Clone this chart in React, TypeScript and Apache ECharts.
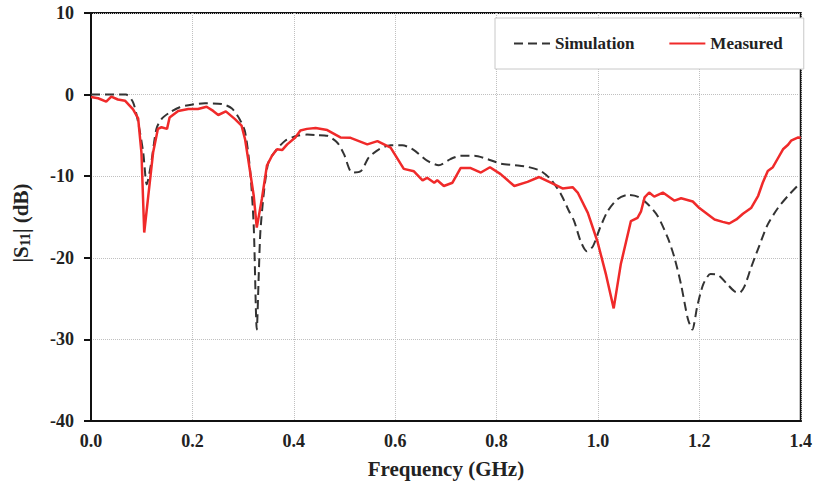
import React, { useEffect, useRef } from "react";
import * as echarts from "echarts";

const xTickLabels = ["0.0", "0.2", "0.4", "0.6", "0.8", "1.0", "1.2", "1.4"];
const yTickLabels = ["-40", "-30", "-20", "-10", "0", "10"];

const simFreq = [
  0.0, 0.069, 0.083, 0.093, 0.103, 0.11, 0.119, 0.129, 0.139, 0.155, 0.175, 0.198, 0.225, 0.258, 0.278,
  0.294, 0.304, 0.314, 0.321, 0.327, 0.331, 0.334, 0.341, 0.35, 0.364, 0.383, 0.407, 0.426, 0.446, 0.466,
  0.486, 0.499, 0.515, 0.532, 0.548, 0.568, 0.591, 0.614, 0.637, 0.663, 0.686, 0.709, 0.729, 0.756, 0.782,
  0.808, 0.835, 0.861, 0.887, 0.907, 0.927, 0.943, 0.953, 0.966, 0.978, 0.99, 1.003, 1.019, 1.039, 1.059,
  1.078, 1.098, 1.118, 1.138, 1.151, 1.164, 1.177, 1.186, 1.196, 1.208, 1.222, 1.237, 1.253, 1.269, 1.279,
  1.289, 1.302, 1.319, 1.335, 1.355, 1.375, 1.398,
];
const simS11 = [
  0, 0, -0.95, -3.4, -7.1, -11.0, -8.3, -4.2, -3.0, -2.2, -1.55, -1.23, -1.07, -1.15, -1.7,
  -3.1, -4.6, -9.35, -16.1, -28.8, -21.9, -16.9, -12.0, -8.3, -6.9, -5.65, -5.05, -4.9, -4.96, -5.05,
  -5.9, -7.3, -9.55, -9.4, -7.7, -6.7, -6.2, -6.2, -6.8, -8.1, -8.65, -7.9, -7.5, -7.5, -7.9,
  -8.45, -8.65, -8.85, -9.35, -10.4, -12.2, -14.3, -15.5, -18.0, -19.2, -18.6, -16.5, -14.3, -12.8, -12.3,
  -12.5, -13.4, -14.9, -17.6, -20.0, -23.3, -27.4, -28.8, -25.9, -23.2, -22.0, -22.1, -23.1, -24.1, -24.3,
  -23.5, -21.2, -18.4, -15.9, -13.9, -12.4, -10.9,
];

const measFreq = [
  0.0, 0.014, 0.03, 0.04, 0.053, 0.067, 0.083, 0.093, 0.0995, 0.105, 0.113, 0.1225, 0.132, 0.139, 0.15,
  0.155, 0.172, 0.192, 0.211, 0.228, 0.241, 0.251, 0.266, 0.284, 0.297, 0.304, 0.311, 0.321, 0.327, 0.337,
  0.347, 0.357, 0.367, 0.377, 0.387, 0.403, 0.413, 0.426, 0.443, 0.466, 0.492, 0.512, 0.545, 0.565, 0.591,
  0.617, 0.637, 0.654, 0.663, 0.677, 0.683, 0.696, 0.713, 0.729, 0.749, 0.769, 0.787, 0.808, 0.835, 0.861,
  0.884, 0.907, 0.93, 0.95, 0.96, 0.98, 0.999, 1.016, 1.031, 1.045, 1.065, 1.078, 1.085, 1.092, 1.101,
  1.111, 1.128, 1.151, 1.164, 1.187, 1.2, 1.213, 1.23, 1.246, 1.259, 1.273, 1.286, 1.302, 1.316, 1.325,
  1.335, 1.345, 1.355, 1.365, 1.375, 1.381, 1.395, 1.4,
];
const measS11 = [
  -0.3, -0.45, -0.86, -0.25, -0.6, -0.75, -1.8, -2.9, -7.1, -16.9, -12.4, -7.1, -4.2, -4.0, -4.2,
  -2.8, -2.0, -1.76, -1.76, -1.48, -2.0, -2.5, -2.05, -3.0, -3.8, -5.5, -8.3, -12.4, -16.3, -12.8,
  -8.7, -7.5, -6.7, -6.8, -6.1, -5.25, -4.4, -4.2, -4.1, -4.35, -5.25, -5.3, -6.1, -5.7, -6.5,
  -9.1, -9.4, -10.5, -10.2, -10.8, -10.5, -11.2, -10.8, -9.0, -9.0, -9.55, -8.9, -9.75, -11.2, -10.7,
  -10.1, -10.8, -11.5, -11.35, -12.0, -14.5, -18.0, -22.1, -26.2, -20.8, -15.5, -15.1, -14.3, -12.6, -12.0,
  -12.5, -12.0, -13.0, -12.7, -13.1, -13.9, -14.5, -15.3, -15.6, -15.8, -15.3, -14.6, -13.9, -12.4, -10.8,
  -9.35, -8.9, -7.8, -6.7, -6.15, -5.65, -5.25, -5.3,
];

const seriesNames = ["Simulation", "Measured"];

const FONT = "'Liberation Serif', 'Times New Roman', serif";

export default function App() {
  const ref = useRef<HTMLDivElement>(null);
  useEffect(() => {
    document.body.style.margin = "0";
    if (!ref.current) return;
    const chart = echarts.init(ref.current, null, { renderer: "svg" });
    const simData = simFreq.map((f, i) => [f, simS11[i]]);
    const measData = measFreq.map((f, i) => [f, measS11[i]]);
    chart.setOption({
      animation: false,
      backgroundColor: "#ffffff",
      grid: {
        left: 91,
        right: 14,
        top: 13,
        bottom: 68,
        show: true,
        borderColor: "#111",
        borderWidth: 2,
        backgroundColor: "transparent",
      },
      legend: {
        data: seriesNames,
        left: 495,
        top: 18,
        orient: "horizontal",
        backgroundColor: "#ffffff",
        borderColor: "#c8c8c8",
        borderWidth: 1,
        padding: [17, 21, 17, 18],
        itemWidth: 36,
        itemHeight: 14,
        itemGap: 34,
        itemStyle: { opacity: 0 },
        textStyle: {
          fontFamily: FONT,
          fontWeight: "bold",
          fontSize: 17,
          color: "#222",
        },
      },
      xAxis: {
        type: "value",
        min: 0,
        max: 1.4,
        interval: 0.2,
        name: "Frequency (GHz)",
        nameLocation: "middle",
        nameGap: 37,
        nameTextStyle: {
          fontFamily: FONT,
          fontWeight: "bold",
          fontSize: 21,
          color: "#222",
        },
        axisLine: { show: true, onZero: false, lineStyle: { color: "#111", width: 2 } },
        axisTick: { show: false },
        axisLabel: {
          margin: 11,
          fontFamily: FONT,
          fontWeight: "bold",
          fontSize: 18,
          color: "#222",
          formatter: (v: number) => {
            const idx = Math.round(v / 0.2);
            return xTickLabels[idx] ?? v.toFixed(1);
          },
        },
        splitLine: { show: true, lineStyle: { color: "#c0c0c0", type: "dotted", width: 1 } },
      },
      yAxis: {
        type: "value",
        min: -40,
        max: 10,
        interval: 10,
        axisLine: { show: true, onZero: false, lineStyle: { color: "#111", width: 2 } },
        axisTick: { show: true, inside: false, length: 7, lineStyle: { color: "#111", width: 2 } },
        axisLabel: {
          margin: 17,
          fontFamily: FONT,
          fontWeight: "bold",
          fontSize: 18,
          color: "#222",
          formatter: (v: number) => {
            const idx = Math.round((v + 40) / 10);
            return yTickLabels[idx] ?? String(v);
          },
        },
        splitLine: { show: true, lineStyle: { color: "#c0c0c0", type: "dotted", width: 1 } },
      },
      graphic: [
        {
          type: "text",
          x: 21,
          y: 223,
          rotation: Math.PI / 2,
          style: {
            text: "|S{sub|11}| (dB)",
            fontFamily: FONT,
            fontWeight: "bold",
            fontSize: 21,
            fill: "#222",
            textAlign: "center",
            textVerticalAlign: "middle",
            rich: {
              sub: {
                fontFamily: FONT,
                fontWeight: "bold",
                fontSize: 14,
                fill: "#222",
                verticalAlign: "bottom",
                padding: [9, 0, 0, 0],
              },
            },
          },
        },
      ],
      series: [
        {
          name: seriesNames[0],
          type: "line",
          data: simData,
          symbol: "none",
          smooth: 0.25,
          lineStyle: { color: "#333333", width: 2, type: [9, 5] },
          itemStyle: { color: "#333333" },
          z: 2,
        },
        {
          name: seriesNames[1],
          type: "line",
          data: measData,
          symbol: "none",
          smooth: false,
          lineStyle: { color: "#f02a2a", width: 2.5, type: "solid" },
          itemStyle: { color: "#f02a2a" },
          z: 3,
        },
      ],
    });
    return () => chart.dispose();
  }, []);
  return (
    <div
      ref={ref}
      style={{ position: "fixed", left: 0, top: 0, width: 815, height: 489 }}
    />
  );
}
